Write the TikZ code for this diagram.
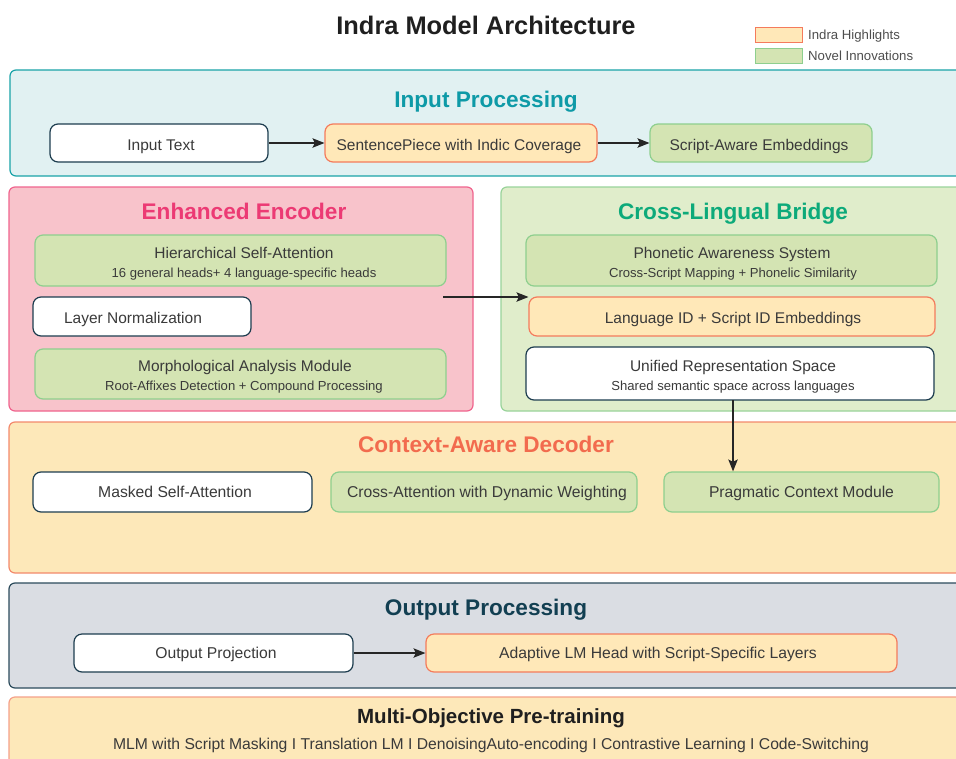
\documentclass[tikz,border=0pt]{standalone}
\usepackage{fontspec}
\setmainfont{Liberation Sans}
\usetikzlibrary{arrows.meta,calc}
\definecolor{txt}{HTML}{3A3A3A}
\definecolor{orfill}{HTML}{FFE8B8}
\definecolor{ordraw}{HTML}{F47B5C}
\definecolor{grfill}{HTML}{D4E4B3}
\definecolor{grdraw}{HTML}{8ECF8E}
\definecolor{wdraw}{HTML}{1D3D4F}
\definecolor{infill}{HTML}{E1F1F2}
\definecolor{indraw}{HTML}{1AA3A8}
\definecolor{intitle}{HTML}{0E9AA7}
\definecolor{encfill}{HTML}{F8C3CB}
\definecolor{encdraw}{HTML}{F0648E}
\definecolor{enctitle}{HTML}{EC3A74}
\definecolor{brfill}{HTML}{E0EDCB}
\definecolor{brdraw}{HTML}{99D39A}
\definecolor{brtitle}{HTML}{0DAA7A}
\definecolor{decfill}{HTML}{FDE8B9}
\definecolor{decdraw}{HTML}{F38A6C}
\definecolor{dectitle}{HTML}{F26B4E}
\definecolor{outfill}{HTML}{DADDE3}
\definecolor{outdraw}{HTML}{2C4B5C}
\definecolor{outtitle}{HTML}{123F52}
\tikzset{
  panel/.style={rectangle, rounded corners=6pt, line width=1.2pt, inner sep=0pt},
  box/.style={rectangle, rounded corners=8pt, line width=1.2pt, inner sep=0pt},
  wbox/.style={box, fill=white, draw=wdraw},
  obox/.style={box, fill=orfill, draw=ordraw},
  gbox/.style={box, fill=grfill, draw=grdraw},
  ptitle/.style={font=\fontsize{22.6}{27}\selectfont\bfseries, inner sep=0pt, text height=16.2pt, text depth=0pt},
  btext/.style={font=\fontsize{15.5}{18}\selectfont, text=txt, inner sep=0pt, text height=11.1pt, text depth=0pt},
  ctext/.style={font=\fontsize{15.7}{18}\selectfont, text=txt, inner sep=0pt, text height=11.2pt, text depth=0pt},
  stext/.style={font=\fontsize{13.1}{15.5}\selectfont, text=txt, inner sep=0pt, text height=9.4pt, text depth=0pt},
  ltext/.style={anchor=west, font=\fontsize{13.2}{16}\selectfont, text=txt!90, inner sep=0pt, text height=9.5pt, text depth=0pt},
  arr/.style={-{Stealth[length=12pt,width=9.5pt,inset=2.5pt]}, line width=1.1pt, draw=black!85, fill=black!85},
}
\begin{document}
\begin{tikzpicture}[x=1pt,y=-1pt]
\useasboundingbox (0,0) rectangle (956,758);
\clip (0,0) rectangle (956,758);
\fill[white] (0,0) rectangle (956,758);

% title and legend
\node[font=\fontsize{25.4}{30}\selectfont\bfseries, text=black!88, inner sep=0pt, text height=18.2pt, text depth=0pt] (title) at (486,25.5) {Indra Model Architecture};
\node[rectangle, fill=orfill, draw=ordraw, line width=1pt, minimum width=47pt, minimum height=15pt, inner sep=0pt] (leg1) at (778.5,34.5) {};
\node[rectangle, fill=grfill, draw=grdraw, line width=1pt, minimum width=47pt, minimum height=15pt, inner sep=0pt] (leg2) at (778.5,55.5) {};
\node[ltext] (leg1t) at (808,34.5) {Indra Highlights};
\node[ltext] (leg2t) at (808,56) {Novel Innovations};

% panels
\node[panel, fill=infill, draw=indraw, minimum width=960pt, minimum height=106pt] (pin) at (490,123) {};
\node[panel, fill=encfill, draw=encdraw, minimum width=464pt, minimum height=224pt] (penc) at (241,299) {};
\node[panel, fill=brfill, draw=brdraw, minimum width=469pt, minimum height=224pt] (pbr) at (735.5,299) {};
\node[panel, fill=decfill, draw=decdraw, minimum width=961pt, minimum height=151pt] (pdec) at (489.5,497.5) {};
\node[panel, fill=outfill, draw=outdraw, minimum width=961pt, minimum height=105pt] (pout) at (489.5,635.5) {};
\node[panel, fill=decfill, draw=decdraw!80, minimum width=961pt, minimum height=83pt] (pmul) at (489.5,738.5) {};

% panel titles
\node[ptitle, text=intitle] (tin) at (486,99) {Input Processing};
\node[ptitle, text=enctitle] (tenc) at (244,211) {Enhanced Encoder};
\node[ptitle, text=brtitle] (tbr) at (733,211) {Cross-Lingual Bridge};
\node[ptitle, text=dectitle] (tdec) at (486,444) {Context-Aware Decoder};
\node[ptitle, text=outtitle] (tout) at (486,607) {Output Processing};
\node[font=\fontsize{20.5}{24}\selectfont\bfseries, text=black!88, inner sep=0pt, text height=14.7pt, text depth=0pt] (tmul) at (491,716) {Multi-Objective Pre-training};
\node[font=\fontsize{15.7}{18}\selectfont, text=txt, inner sep=0pt, text height=11.2pt, text depth=0pt] (smul) at (491,744) {MLM with Script Masking I Translation LM I DenoisingAuto-encoding I Contrastive Learning I Code-Switching};

% input processing
\node[wbox, minimum width=218pt, minimum height=38pt] (intext) at (159,143) {};
\node[btext] (intextt) at (161,145) {Input Text};
\node[obox, minimum width=272pt, minimum height=38pt] (sp) at (461,143) {};
\node[btext] (spt) at (459,145) {SentencePiece with Indic Coverage};
\node[gbox, minimum width=222pt, minimum height=38pt] (sae) at (761,143) {};
\node[btext] (saet) at (759,145) {Script-Aware Embeddings};
\draw[arr] (intext.east) -- (sp.west);
\draw[arr] (sp.east) -- (sae.west);

% encoder
\node[gbox, minimum width=411pt, minimum height=51pt] (hier) at (240.5,260.5) {};
\node[btext] (hiert) at (244,253) {Hierarchical Self-Attention};
\node[stext] (hiers) at (244,273) {16 general heads+ 4 language-specific heads};
\node[wbox, minimum width=218pt, minimum height=39pt] (ln) at (142,316.5) {};
\node[btext] (lnt) at (133,318) {Layer Normalization};
\node[gbox, minimum width=411pt, minimum height=50pt] (morph) at (240.5,374) {};
\node[btext] (morpht) at (245,366) {Morphological Analysis Module};
\node[stext] (morphs) at (244,386) {Root-Affixes Detection + Compound Processing};

% bridge
\node[gbox, minimum width=411pt, minimum height=51pt] (phon) at (731.5,260.5) {};
\node[btext] (phont) at (732,253) {Phonetic Awareness System};
\node[stext] (phons) at (733,273) {Cross-Script Mapping + Phonelic Similarity};
\node[obox, minimum width=406pt, minimum height=39pt] (lang) at (732,316.5) {};
\node[btext] (langt) at (733,318) {Language ID + Script ID Embeddings};
\node[wbox, minimum width=408pt, minimum height=53pt] (uni) at (730,373.5) {};
\node[btext] (unit) at (733,366) {Unified Representation Space};
\node[stext] (unis) at (733,386) {Shared semantic space across languages};

\coordinate (encout) at (443,297);
\draw[arr] (encout) -- (encout -| lang.west);

% decoder
\node[wbox, minimum width=279pt, minimum height=40pt] (masked) at (172.5,492) {};
\node[ctext] (maskedt) at (175,492) {Masked Self-Attention};
\node[gbox, minimum width=306pt, minimum height=40pt] (cross) at (484,492) {};
\node[ctext] (crosst) at (487,492) {Cross-Attention with Dynamic Weighting};
\node[gbox, minimum width=275pt, minimum height=40pt] (prag) at (801.5,492) {};
\node[ctext] (pragt) at (801.5,492) {Pragmatic Context Module};
\coordinate (unibot) at (733,400);
\draw[arr] (unibot) -- (unibot |- prag.north);

% output
\node[wbox, minimum width=279pt, minimum height=38pt] (outproj) at (213.5,653) {};
\node[ctext] (outprojt) at (216,652.5) {Output Projection};
\node[obox, minimum width=471pt, minimum height=38pt] (adapt) at (661.5,653) {};
\node[ctext] (adaptt) at (658,652.5) {Adaptive LM Head with Script-Specific Layers};
\draw[arr] (outproj.east) -- (adapt.west);
\end{tikzpicture}
\end{document}
